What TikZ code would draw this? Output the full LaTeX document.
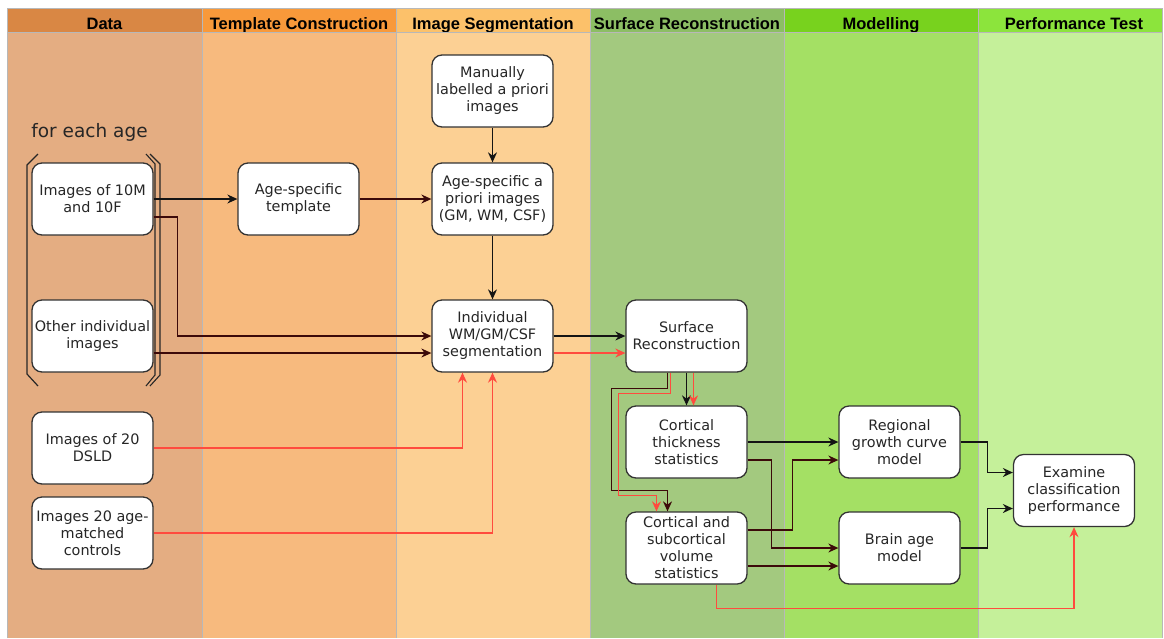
\documentclass[tikz,border=0pt]{standalone}
\usepackage{fontspec}
\setmainfont{DejaVu Sans}
\newfontfamily\headfont{Liberation Sans}
\usetikzlibrary{arrows.meta}

\definecolor{hdata}{HTML}{D98744}
\definecolor{htmpl}{HTML}{F8993A}
\definecolor{hseg}{HTML}{FCC16A}
\definecolor{hsurf}{HTML}{8CBE64}
\definecolor{hmod}{HTML}{78D21E}
\definecolor{hperf}{HTML}{8CE43C}
\definecolor{bdata}{HTML}{E4AD82}
\definecolor{btmpl}{HTML}{F7BA7E}
\definecolor{bseg}{HTML}{FCD094}
\definecolor{bsurf}{HTML}{A3C97F}
\definecolor{bmod}{HTML}{A4E064}
\definecolor{bperf}{HTML}{C5F09A}
\definecolor{boxline}{HTML}{333333}
\definecolor{darkline}{HTML}{3C0A0A}
\definecolor{redline}{HTML}{FF4B3E}
\definecolor{gridgray}{HTML}{B8B8B8}

\begin{document}
\begin{tikzpicture}[x=1pt,y=-1pt,
    box/.style={draw=boxline, line width=1.3pt, fill=white, rounded corners=10pt,
      minimum width=121pt, minimum height=72pt, align=center, inner sep=1pt,
      text=black!85, font=\fontsize{14.4}{17}\selectfont},
    head/.style={text=black, anchor=base, font=\headfont\bfseries\fontsize{16.5}{18}\selectfont},
    blk/.style={draw=black!92, line width=1.3pt, -{Stealth[length=10pt,width=9pt]}},
    drk/.style={blk, draw=darkline, -{Stealth[length=10pt,width=9pt,fill=darkline]}},
    rd/.style={blk, draw=redline, line width=1.3pt, -{Stealth[length=10pt,width=9pt,fill=redline]}}]
  \useasboundingbox (0,0) rectangle (1164,638);
  \fill[white] (0,0) rectangle (1164,638);

  % columns
  \fill[bdata] (7,32) rectangle (202,638);
  \fill[btmpl] (202,32) rectangle (396,638);
  \fill[bseg] (396,32) rectangle (590,638);
  \fill[bsurf] (590,32) rectangle (784,638);
  \fill[bmod] (784,32) rectangle (978,638);
  \fill[bperf] (978,32) rectangle (1162,638);
  \fill[hdata] (7,8) rectangle (202,32);
  \fill[htmpl] (202,8) rectangle (396,32);
  \fill[hseg] (396,8) rectangle (590,32);
  \fill[hsurf] (590,8) rectangle (784,32);
  \fill[hmod] (784,8) rectangle (978,32);
  \fill[hperf] (978,8) rectangle (1162,32);
  \node[head] (hd) at (104.5,29) {Data};
  \node[head] (ht) at (299,29) {Template Construction};
  \node[head] (hs) at (493,29) {Image Segmentation};
  \node[head] (hr) at (687,29) {Surface Reconstruction};
  \node[head] (hm) at (881,29) {Modelling};
  \node[head] (hp) at (1074,29) {Performance Test};
  \foreach \x in {202,396,590,784,978}
    \draw[gridgray, line width=0.8pt] (\x,8) -- (\x,638);
  \draw[gridgray, line width=0.8pt] (7,638) -- (7,8) -- (1162,8) -- (1162,638);
  \draw[gridgray, line width=0.8pt] (7,32) -- (1162,32);

  % for each age bracket
  \node[font=\fontsize{18.5}{20}\selectfont, text=black!85] (age) at (89.5,132) {for each age};
  \draw[black!85, line width=1.2pt] (38,154) -- (27,165) -- (27,374) -- (38,386);
  \draw[black!85, line width=1.1pt] (146,154) -- (155,164) -- (155,375) -- (146,386);
  \draw[black!85, line width=1.1pt] (150,154) -- (160,164) -- (160,375) -- (150,386);

  % boxes
  \node[box] (tenm) at (92.5,199) {Images of 10M\\and 10F};
  \node[box] (other) at (92.5,336) {Other individual\\images};
  \node[box] (dsld) at (92.5,448) {Images of 20\\DSLD};
  \node[box] (ctrl) at (92.5,533) {Images 20 age-\\matched\\controls};
  \node[box] (tmpl) at (298.5,199) {Age-specific\\template};
  \node[box] (manual) at (492.5,91) {Manually\\labelled a priori\\images};
  \node[box] (prior) at (492.5,199) {Age-specific a\\priori images\\(GM, WM, CSF)};
  \node[box] (indiv) at (492.5,336) {Individual\\WM/GM/CSF\\segmentation};
  \node[box] (surf) at (686.5,336) {Surface\\Reconstruction};
  \node[box] (thick) at (686.5,442) {Cortical\\thickness\\statistics};
  \node[box] (vol) at (686.5,548) {Cortical and\\subcortical\\volume\\statistics};
  \node[box] (growth) at (899.5,442) {Regional\\growth curve\\model};
  \node[box] (brain) at (899.5,548) {Brain age\\model};
  \node[box] (exam) at (1074,490.5) {Examine\\classification\\performance};

  % connectors
  \draw[blk] (tenm.east) -- (tmpl.west);
  \draw[drk] (tmpl.east) -- (prior.west);
  \draw[blk] (manual) -- (prior);
  \draw[blk] (prior) -- (indiv);
  \draw[drk] ([yshift=-18pt]tenm.east) -- ++(24,0) |- (indiv.west);
  \draw[drk] ([yshift=-17pt]other.east) -- ([yshift=-17pt]indiv.west);
  \draw[rd] (dsld.east) -| ([xshift=-30pt]indiv.south);
  \draw[rd] (ctrl.east) -| (indiv.south);
  \draw[blk] (indiv.east) -- (surf.west);
  \draw[rd] ([yshift=-17pt]indiv.east) -- ([yshift=-17pt]surf.west);
  \draw[blk] (surf) -- (thick);
  \draw[rd] ([xshift=7pt]surf.south) -- ([xshift=7pt]thick.north);
  \draw[drk] ([xshift=-19pt]surf.south) -- ++(0,16) -- ++(-56,0) -- ++(0,102) -- ++(56,0) -- ([xshift=-19pt]vol.north);
  \draw[rd] ([xshift=-16pt]surf.south) -- ++(0,21) -- ++(-52,0) -- ++(0,102) -- ++(38,0) -- ([xshift=-30pt]vol.north);
  \draw[blk] (thick.east) -- (growth.west);
  \draw[drk] ([yshift=-18pt]thick.east) -- ++(24,0) |- (brain.west);
  \draw[drk] ([yshift=18pt]vol.east) -- ++(45,0) |- ([yshift=-18pt]growth.west);
  \draw[drk] ([yshift=-18pt]vol.east) -- ([yshift=-18pt]brain.west);
  \draw[blk] (growth.east) -- ++(27,0) |- ([yshift=18pt]exam.west);
  \draw[blk] (brain.east) -- ++(27,0) |- ([yshift=-18pt]exam.west);
  \draw[rd] ([xshift=30pt]vol.south) -- ++(0,24) -| (exam.south);
\end{tikzpicture}
\end{document}
